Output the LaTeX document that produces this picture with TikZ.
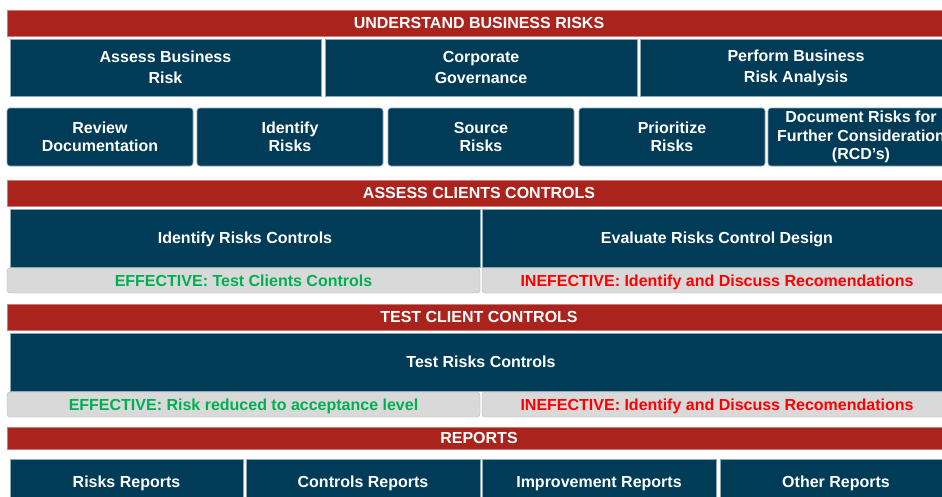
\documentclass[tikz,border=0pt]{standalone}
\usepackage{fontspec}
\setmainfont{Liberation Sans}
\definecolor{barred}{RGB}{170,36,29}
\definecolor{navy}{RGB}{0,60,88}
\definecolor{lgray}{RGB}{217,217,217}
\definecolor{effgreen}{RGB}{0,176,80}
\definecolor{ineffred}{RGB}{255,0,0}
\begin{document}
\begin{tikzpicture}[x=1pt,y=-1pt,
  every node/.style={inner sep=0pt, outer sep=0pt, align=center,
    font=\bfseries\fontsize{16}{21}\selectfont},
  oneline/.style={text height=13.5pt, text depth=2.5pt},
  redbar/.style={oneline, fill=barred, draw=barred!60!white, line width=0.5pt, text=white, minimum height=26pt, minimum width=944pt},
  bluebox/.style={fill=navy, draw=navy!45!white, line width=0.6pt, text=white},
  stepbox/.style={bluebox, rounded corners=3pt, minimum width=186pt, minimum height=58pt,
    font=\bfseries\fontsize{16}{18.5}\selectfont},
  graybar/.style={oneline, fill=lgray, draw=lgray!85!black, line width=0.4pt, rounded corners=3pt, minimum height=25pt},
  eff/.style={graybar, text=effgreen},
  ineff/.style={graybar, text=ineffred}]
\clip (0,0) rectangle (942,496);
\fill[white] (0,0) rectangle (942,496);

% Understand business risks
\node[redbar] (b1) at (479,23) {UNDERSTAND BUSINESS RISKS};
\node[bluebox, minimum width=311pt, minimum height=57pt] (abr) at (165.5,67.5) {Assess Business\\Risk};
\node[bluebox, minimum width=312pt, minimum height=57pt] (cg) at (481,67.5) {Corporate\\Governance};
\node[bluebox, minimum width=312pt, minimum height=57pt] (pbr) at (796,67.5) {Perform Business\\Risk Analysis};

\node[stepbox] (rd) at (100,137) {Review\\Documentation};
\node[stepbox] (ir) at (290,137) {Identify\\Risks};
\node[stepbox] (sr) at (481,137) {Source\\Risks};
\node[stepbox] (pr) at (672,137) {Prioritize\\Risks};
\node[stepbox] (dr) at (861,137) {Document Risks for\\Further Consideration\\(RCD’s)};

% Assess clients controls
\node[redbar] (b2) at (479,193) {ASSESS CLIENTS CONTROLS};
\node[bluebox, oneline, minimum width=470pt, minimum height=58pt] (irc) at (245,238) {Identify Risks Controls};
\node[bluebox, oneline, minimum width=470pt, minimum height=58pt] (erc) at (717,238) {Evaluate Risks Control Design};
\node[eff, minimum width=473pt] (e1) at (243.5,280.5) {EFFECTIVE: Test Clients Controls};
\node[ineff, minimum width=470pt] (n1) at (717,280.5) {INEFECTIVE: Identify and Discuss Recomendations};

% Test client controls
\node[redbar] (b3) at (479,317) {TEST CLIENT CONTROLS};
\node[bluebox, oneline, minimum width=942pt, minimum height=58pt] (trc) at (481,362) {Test Risks Controls};
\node[eff, minimum width=473pt] (e2) at (243.5,404.5) {EFFECTIVE: Risk reduced to acceptance level};
\node[ineff, minimum width=470pt] (n2) at (717,404.5) {INEFECTIVE: Identify and Discuss Recomendations};

% Reports
\node[redbar, minimum height=22pt] (b4) at (479,438) {REPORTS};
\node[bluebox, oneline, minimum width=233pt, minimum height=46pt] (rr) at (126.5,482) {Risks Reports};
\node[bluebox, oneline, minimum width=234pt, minimum height=46pt] (cr) at (363,482) {Controls Reports};
\node[bluebox, oneline, minimum width=234pt, minimum height=46pt] (imr) at (599,482) {Improvement Reports};
\node[bluebox, oneline, minimum width=232pt, minimum height=46pt] (or) at (836,482) {Other Reports};
\end{tikzpicture}
\end{document}
